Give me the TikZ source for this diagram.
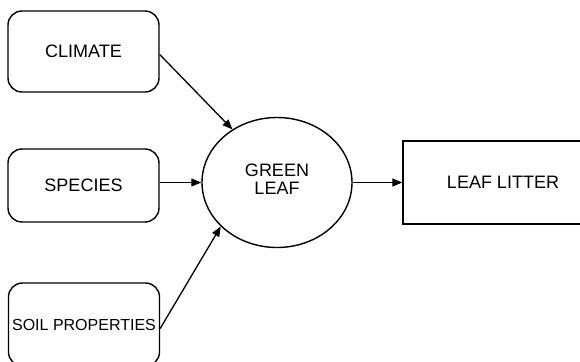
\documentclass[tikz,border=0pt]{standalone}
\usepackage{fontspec}
\setmainfont{Liberation Sans}
\usetikzlibrary{arrows.meta,shapes.geometric}
\begin{document}
\begin{tikzpicture}[x=1pt,y=-1pt,
  every node/.style={font=\fontsize{18}{18}\selectfont, text=black},
  factor/.style={draw, line width=1.4pt, rounded corners=14pt, minimum width=151pt, inner sep=0pt},
  arr/.style={line width=1.3pt, -{Triangle[length=10pt,width=8pt]}}]
\useasboundingbox (0,0) rectangle (580,361);
\begin{scope}
\clip (0,0) rectangle (580,361);
\node[factor, minimum height=81pt] (climate) at (83.5,51.5) {CLIMATE};
\node[factor, minimum height=73pt] (species) at (83.5,185.5) {SPECIES};
\node[factor, minimum height=83pt, font=\fontsize{16}{16}\selectfont] (soil) at (84,324.5) {SOIL PROPERTIES};
\node[draw, ellipse, line width=1.4pt, minimum width=150pt, minimum height=130pt, inner sep=0pt] (green) at (277,182.5) {};
\node[align=center, inner sep=0pt] (greentext) at (277,179) {GREEN\\LEAF};
\node[draw, line width=1.4pt, minimum width=200pt, minimum height=83pt, inner sep=0pt] (litter) at (503,182.5) {LEAF LITTER};
\draw[arr] ([yshift=-3pt]climate.east) -- (green.130);
\draw[arr] (species.east |- green.west) -- (green.west);
\draw[arr] ([yshift=-4pt]soil.east) -- (green.218);
\draw[arr] (green.east) -- (litter.west);
\end{scope}
\end{tikzpicture}
\end{document}
